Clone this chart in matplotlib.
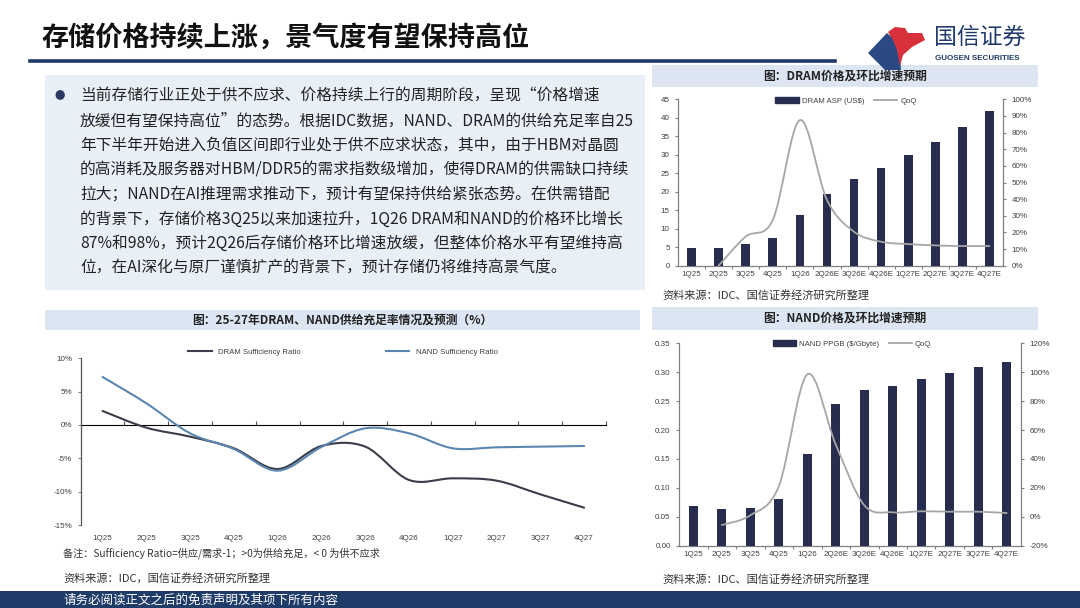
import matplotlib
matplotlib.use('Agg')
import matplotlib.pyplot as plt
from matplotlib.path import Path
from matplotlib.patches import PathPatch, Rectangle, Polygon
from matplotlib.lines import Line2D
from matplotlib.ticker import FixedLocator

plt.rcParams['font.family'] = ['Noto Sans CJK SC', 'DejaVu Sans']

# ---- data ----
quarters = ['1Q25', '2Q25', '3Q25', '4Q25', '1Q26', '2Q26', '3Q26', '4Q26',
            '1Q27', '2Q27', '3Q27', '4Q27']
dram_suff = [2.1, -0.4, -1.75, -3.5, -6.6, -3.15, -3.25, -8.25, -8.0, -8.35, -10.4, -12.4]
nand_suff = [7.2, 3.25, -1.25, -3.6, -6.85, -3.3, -0.5, -1.25, -3.5, -3.35, -3.25, -3.15]

price_quarters = ['1Q25', '2Q25', '3Q25', '4Q25', '1Q26', '2Q26E', '3Q26E', '4Q26E',
                  '1Q27E', '2Q27E', '3Q27E', '4Q27E']
dram_asp = [4.8, 4.8, 5.8, 7.4, 13.7, 19.5, 23.4, 26.5, 29.9, 33.4, 37.5, 41.8]
dram_qoq = [None, 0.0, 17.5, 27.5, 87.5, 39.5, 20.4, 14.4, 13.0, 12.2, 11.8, 11.8]
nand_ppgb = [0.069, 0.064, 0.065, 0.081, 0.159, 0.245, 0.269, 0.277, 0.288, 0.298, 0.309, 0.317]
nand_qoq = [None, -5.7, 1.0, 21.0, 98.5, 50.0, 8.0, 3.1, 3.8, 3.5, 3.5, 2.6]

body_lines = [
    '当前存储行业正处于供不应求、价格持续上行的周期阶段，呈现“价格增速',
    '放缓但有望保持高位”的态势。根据IDC数据，NAND、DRAM的供给充足率自25',
    '年下半年开始进入负值区间即行业处于供不应求状态，其中，由于HBM对晶圆',
    '的高消耗及服务器对HBM/DDR5的需求指数级增加，使得DRAM的供需缺口持续',
    '拉大；NAND在AI推理需求推动下，预计有望保持供给紧张态势。在供需错配',
    '的背景下，存储价格3Q25以来加速拉升，1Q26 DRAM和NAND的价格环比增长',
    '87%和98%，预计2Q26后存储价格环比增速放缓，但整体价格水平有望维持高',
    '位，在AI深化与原厂谨慎扩产的背景下，预计存储仍将维持高景气度。',
]

NAVY = '#262d4f'
GREY_LINE = '#a6a6a6'
AXIS = '#808080'
LABEL = '#404040'
BAR_BG = '#dce6f2'
BOX_BG = '#e9eff7'
LAT = ['Liberation Sans', 'Noto Sans CJK SC']

W, H = 1080, 608
fig = plt.figure(figsize=(10.8, 6.08), dpi=100)


def fx(px):
    return px / W


def fy(py):
    return 1 - py / H


def smooth_path(xs, ys):
    # Excel style smoothed line (Catmull-Rom as cubic Bezier)
    n = len(xs)
    verts = [(xs[0], ys[0])]
    codes = [Path.MOVETO]
    for i in range(n - 1):
        a = max(i - 1, 0)
        d = min(i + 2, n - 1)
        c1 = (xs[i] + (xs[i + 1] - xs[a]) / 6, ys[i] + (ys[i + 1] - ys[a]) / 6)
        c2 = (xs[i + 1] - (xs[d] - xs[i]) / 6, ys[i + 1] - (ys[d] - ys[i]) / 6)
        verts += [c1, c2, (xs[i + 1], ys[i + 1])]
        codes += [Path.CURVE4] * 3
    return Path(verts, codes)


def add_smooth(ax, values, color, lw):
    pts = [(i, v) for i, v in enumerate(values) if v is not None]
    xs = [p[0] for p in pts]
    ys = [p[1] for p in pts]
    ax.add_patch(PathPatch(smooth_path(xs, ys), fill=False, edgecolor=color,
                           lw=lw, zorder=4, capstyle='round'))


def style_axis(ax):
    for s in ['top', 'right']:
        ax.spines[s].set_visible(False)
    for s in ['left', 'bottom']:
        ax.spines[s].set_color(AXIS)
        ax.spines[s].set_linewidth(0.9)
    ax.tick_params(colors=AXIS, labelcolor=LABEL, labelsize=5.8, length=2.5, width=0.8)
    for lab in ax.get_xticklabels() + ax.get_yticklabels():
        lab.set_fontfamily(LAT)


# ---- page header ----
fig.text(fx(42), fy(38), '存储价格持续上涨，景气度有望保持高位', fontsize=19.5,
         fontweight='bold', color='#111111', va='center', ha='left')
fig.add_artist(Line2D([fx(30), fx(835)], [fy(61), fy(61)], color='#203864', lw=2.6))

# logo
fig.add_artist(Polygon([(fx(868), fy(53)), (fx(887), fy(33)), (fx(893), fy(38)),
                        (fx(897), fy(48)), (fx(900), fy(58)), (fx(901), fy(70)),
                        (fx(885), fy(70))],
                       closed=True, color='#2b4a85', lw=0))
fig.add_artist(Polygon([(fx(888), fy(32)), (fx(895), fy(27)), (fx(905), fy(28)),
                        (fx(908), fy(33)), (fx(922), fy(33)), (fx(925), fy(40)),
                        (fx(912), fy(47)), (fx(903), fy(55)), (fx(900), fy(66)),
                        (fx(897), fy(50)), (fx(893), fy(40))],
                       closed=True, color='#d8313b', lw=0))
fig.text(fx(934), fy(37), '国信证券', fontsize=16.5, color='#1f3a6a', va='center', ha='left')
fig.text(fx(935), fy(59), 'GUOSEN SECURITIES', fontsize=5.8, color='#1f3a6a',
         fontweight='bold', va='center', ha='left', family=LAT)

# ---- text box ----
fig.add_artist(Rectangle((fx(45), fy(290)), fx(600), (290 - 75) / H,
                         color=BOX_BG, lw=0, zorder=0))
fig.text(fx(60), fy(96), '●', fontsize=7.5, color='#2b3a63', va='center', ha='center')
for i, line in enumerate(body_lines):
    fig.text(fx(80), fy(96 + i * 24.6), line, fontsize=11.3, color='#222222',
             va='center', ha='left')

# ---- chart title bars ----
def title_bar(x0, x1, y0, y1, text):
    fig.add_artist(Rectangle((fx(x0), fy(y1)), fx(x1 - x0), (y1 - y0) / H,
                             color=BAR_BG, lw=0, zorder=0))
    fig.text(fx((x0 + x1) / 2), fy((y0 + y1) / 2), text, fontsize=8.5,
             fontweight='bold', color='#222222', va='center', ha='center')


title_bar(652, 1038, 65, 87, '图：DRAM价格及环比增速预期')
title_bar(652, 1038, 307, 330, '图：NAND价格及环比增速预期')
title_bar(45, 640, 310, 330, '图：25-27年DRAM、NAND供给充足率情况及预测（%）')

# ---- left chart: sufficiency ratio ----
ax1 = fig.add_axes([fx(80.7), fy(525), fx(606 - 80.7), (525 - 358.3) / H])
x = list(range(len(quarters)))
ax1.set_xlim(-0.5, len(quarters) - 0.5)
ax1.set_ylim(-15, 10)
add_smooth(ax1, dram_suff, '#3a3d4a', 1.5)
add_smooth(ax1, nand_suff, '#5b86b0', 1.5)
ax1.set_yticks([10, 5, 0, -5, -10, -15])
ax1.set_yticklabels(['10%', '5%', '0%', '-5%', '-10%', '-15%'])
ax1.set_xticks(x)
ax1.set_xticklabels(quarters)
style_axis(ax1)
ax1.spines['left'].set_color('#555555')
ax1.spines['bottom'].set_visible(False)
ax1.tick_params(axis='x', length=0, pad=7)
zero = ax1.secondary_xaxis(0.6)
zero.spines['bottom'].set_color('#555555')
zero.spines['bottom'].set_linewidth(1.2)
zero.set_xticks([i + 0.5 for i in x], labels=[''] * len(x))
zero.tick_params(length=3, color='#555555')
h1 = [Line2D([], [], color='#3a3d4a', lw=1.5), Line2D([], [], color='#5b86b0', lw=1.5)]
ax1.legend(h1, ['DRAM Sufficiency Ratio', 'NAND Sufficiency Ratio'], loc='center',
           bbox_to_anchor=(fx(343), fy(352)), bbox_transform=fig.transFigure, ncol=2,
           frameon=False, handlelength=3, columnspacing=11,
           labelcolor=LABEL, prop={'family': LAT, 'size': 5.6})
fig.text(fx(63), fy(553), '备注：Sufficiency Ratio=供应/需求-1；>0为供给充足，< 0 为供不应求',
         fontsize=7.3, color='#333333', va='center', ha='left')
fig.text(fx(63), fy(578), '资料来源：IDC，国信证券经济研究所整理', fontsize=8,
         color='#333333', va='center', ha='left')


# ---- right charts ----
def price_chart(rect, bars, qoq, ylim, yticks, ylabels, ylim2, yticks2, bar_label,
                legend_xy, src_y):
    ax = fig.add_axes(rect)
    ax.bar(x, bars, width=0.32, color=NAVY, zorder=3)
    ax.set_xlim(-0.5, len(x) - 0.5)
    ax.set_ylim(*ylim)
    ax.set_yticks(yticks)
    ax.set_yticklabels(ylabels)
    ax.set_xticks(x)
    ax.set_xticklabels(price_quarters)
    style_axis(ax)
    ax.tick_params(axis='x', which='major', length=0, pad=4)
    ax.xaxis.set_minor_locator(FixedLocator([i + 0.5 for i in x[:-1]]))
    ax.tick_params(axis='x', which='minor', length=2.5, color=AXIS, width=0.8)
    ax2 = ax.twinx()
    ax2.set_ylim(*ylim2)
    ax2.set_yticks(yticks2)
    ax2.set_yticklabels(['%d%%' % t for t in yticks2])
    for s in ['top', 'left', 'bottom']:
        ax2.spines[s].set_visible(False)
    ax2.spines['right'].set_color(AXIS)
    ax2.spines['right'].set_linewidth(0.9)
    ax2.tick_params(colors=AXIS, labelcolor=LABEL, labelsize=5.8, length=2.5, width=0.8)
    for lab in ax2.get_yticklabels():
        lab.set_fontfamily(LAT)
    add_smooth(ax2, qoq, GREY_LINE, 1.3)
    handles = [Rectangle((0, 0), 1, 1, color=NAVY), Line2D([], [], color=GREY_LINE, lw=1.3)]
    ax2.legend(handles, [bar_label, 'QoQ'], loc='center', bbox_to_anchor=legend_xy,
               bbox_transform=fig.transFigure, ncol=2, frameon=False,
               handlelength=3, handleheight=0.7, columnspacing=1.2, handletextpad=0.4,
               labelcolor=LABEL, prop={'family': LAT, 'size': 5.6})
    fig.text(fx(662), fy(src_y), '资料来源：IDC、国信证券经济研究所整理', fontsize=8,
             color='#333333', va='center', ha='left')
    return ax, ax2


price_chart([fx(678), fy(265.7), fx(1003 - 678), (265.7 - 99.3) / H],
            dram_asp, dram_qoq, (0, 45), list(range(0, 50, 5)),
            [str(v) for v in range(0, 50, 5)], (0, 100), list(range(0, 110, 10)),
            'DRAM ASP (US$)', (fx(846), fy(101)), 295)

price_chart([fx(679), fy(545.7), fx(1021 - 679), (545.7 - 343.3) / H],
            nand_ppgb, nand_qoq, (0, 0.35), [i * 0.05 for i in range(8)],
            ['%.2f' % (i * 0.05) for i in range(8)], (-20, 120), list(range(-20, 140, 20)),
            'NAND PPGB ($/Gbyte)', (fx(852), fy(344)), 579)

# ---- footer ----
fig.add_artist(Rectangle((0, 0), 1, (608 - 591) / H, color='#1f3c68', lw=0))
fig.text(fx(63), fy(600), '请务必阅读正文之后的免责声明及其项下所有内容', fontsize=9,
         color='white', va='center', ha='left')

fig.savefig('out.png', dpi=100)
